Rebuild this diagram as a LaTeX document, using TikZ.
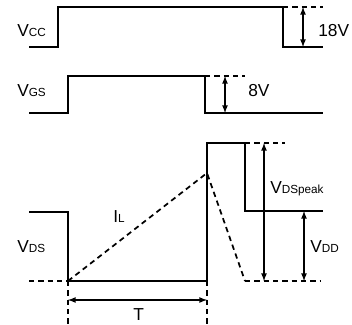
\documentclass[tikz,border=0pt]{standalone}
\usepackage{fontspec}
\setmainfont{Liberation Sans}
\usetikzlibrary{arrows,math}
\newcommand{\subsz}{\fontsize{8.8}{9}\selectfont}

\begin{document}
\begin{tikzpicture}[x=0.75pt,y=-0.75pt,
  wave/.style={line width=1.5pt},
  guide/.style={dash pattern=on 4pt off 3pt, line width=1.3pt},
  dim/.style={latex-latex, line width=1pt},
  lbl/.style={anchor=base west, inner sep=0pt, font=\fontsize{13}{15}\selectfont}]
\useasboundingbox (0,0) rectangle (352,324);
\tikzmath{
\xl=29; \xr=323;
\ton=68; \toff=207;
}

% Vcc
\draw[wave] (\xl,47) -- (58,47) -- (58,7) -- (283,7) -- (283,47) -- (\xr,47);
\draw[guide] (283,7) -- (\xr,7);
\coordinate (cchi) at (303,7);
\coordinate (cclo) at (303,47);
\draw[dim] (cchi) -- (cclo);
\node[lbl] (vcc) at (17,37) {V{\subsz CC}};
\node[lbl] (v18) at (318,37) {18V};

% VGS
\draw[wave] (\xl,113) -- (\ton,113) -- (\ton,76) -- (205,76) -- (205,113) -- (\xr,113);
\draw[guide] (205,76) -- (245,76);
\coordinate (gshi) at (225,76);
\coordinate (gslo) at (225,113);
\draw[dim] (gshi) -- (gslo);
\node[lbl] (vgs) at (17,97) {V{\subsz GS}};
\node[lbl] (v8) at (248,97) {8V};

% VDS
\draw[wave] (\xl,212) -- (\ton,212) -- (\ton,281) -- (\toff,281) -- (\toff,143)
  -- (245,143) -- (245,211) -- (\xr,211);
\draw[guide] (\xl,281) -- (\ton,281);
\draw[guide] (245,281) -- (320,281);
\draw[guide] (245,143) -- (285,143);
\node[lbl] (vds) at (17,252) {V{\subsz DS}};

% IL
\coordinate (ilpk) at (\toff,173);
\draw[guide] (\ton,281) -- (ilpk) -- (245,281);
\node[lbl] (il) at (113,222) {I{\subsz L}};

% peak and VDD
\coordinate (pkhi) at (264,143);
\coordinate (pklo) at (264,281);
\draw[dim] (pkhi) -- (pklo);
\node[lbl] (vpk) at (270,193) {V{\subsz DSpeak}};
\coordinate (ddhi) at (304,211);
\coordinate (ddlo) at (304,281);
\draw[dim] (ddhi) -- (ddlo);
\node[lbl] (vdd) at (310,252) {V{\subsz DD}};

% T
\coordinate (ta) at (\ton,300);
\coordinate (tb) at (\toff,300);
\draw[guide] (\ton,281) -- (\ton,324);
\draw[guide] (\toff,281) -- (\toff,324);
\draw[dim] (ta) -- (tb);
\node[lbl] (t) at (133,320) {T};
\end{tikzpicture}
\end{document}
